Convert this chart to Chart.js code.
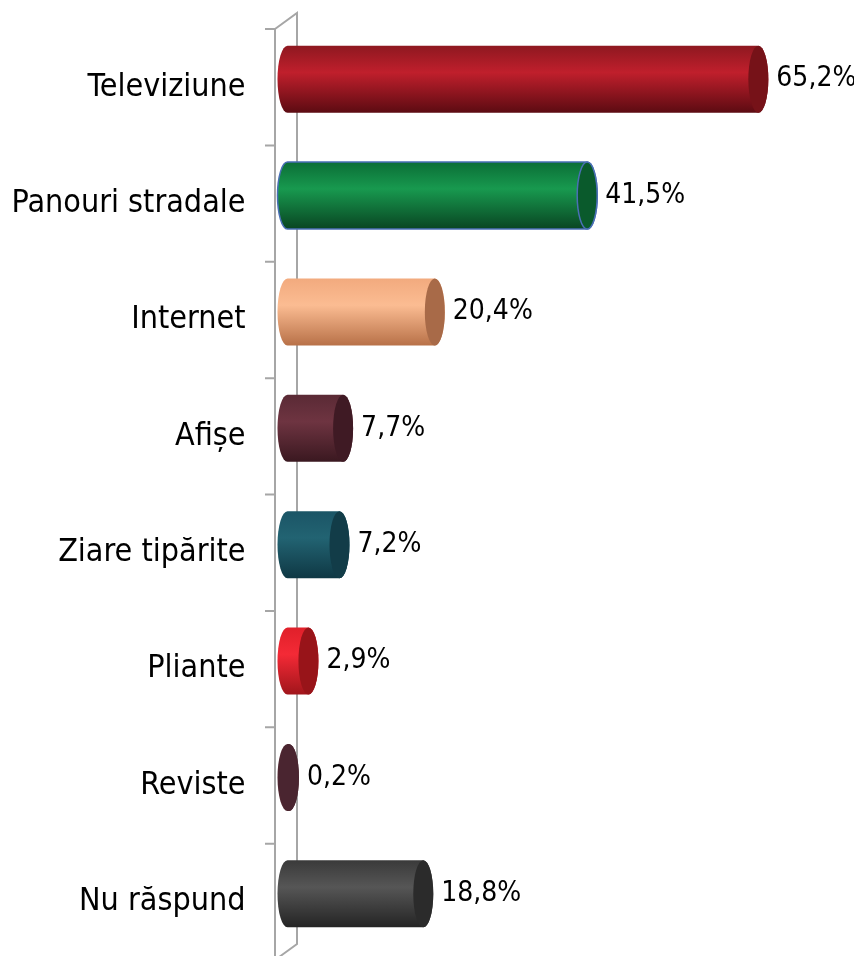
<!DOCTYPE html>
<html>
<head>
<meta charset="utf-8">
<script src="https://cdn.jsdelivr.net/npm/chart.js@4/dist/chart.umd.min.js"></script>
<style>
html,body{margin:0;padding:0;background:#fff;overflow:hidden;}
canvas{display:block;}
</style>
</head>
<body>
<canvas id="c" width="854" height="972"></canvas>
<script>
const categories = ["Televiziune","Panouri stradale","Internet","Afișe","Ziare tipărite","Pliante","Reviste","Nu răspund"];
const values = [65.2, 41.5, 20.4, 7.7, 7.2, 2.9, 0.2, 18.8];
const valueLabels = ["65,2%","41,5%","20,4%","7,7%","7,2%","2,9%","0,2%","18,8%"];
const barTop = ["#8e1820","#0b6e36","#f2aa7e","#5a2a35","#1b5566","#e0202a","#4e2630","#3a3a3a"];
const barMid = ["#c01f2c","#18994f","#fbbc92","#6e3441","#226372","#f42a36","#4e2630","#565656"];
const barBottom = ["#5c0b12","#094522","#b87148","#3a1820","#0f3844","#a0151b","#4e2630","#242424"];
const barCap = ["#761218","#0a5a2c","#a86a48","#3f1a24","#123c48","#981419","#4a2530","#2b2b2b"];
const barStroke = [null,"#4a6fb5",null,null,null,null,null,null];

const FONT = "'DejaVu Sans Condensed','DejaVu Sans',sans-serif";
const DEPTH_SHIFT = 8;

const cylinderPlugin = {
  id: 'cyl',
  beforeDatasetsDraw(chart) {
    const ctx = chart.ctx;
    const xs = chart.scales.x, ys = chart.scales.y;
    const ca = chart.chartArea;
    const z = xs.getPixelForValue(0);
    const band = (ca.bottom - ca.top) / categories.length;
    const lx = z - 12.5, rx = z + 9.5;
    ctx.save();
    ctx.strokeStyle = '#a6a6a6';
    ctx.lineWidth = 2;
    ctx.beginPath();
    ctx.moveTo(lx, ca.top); ctx.lineTo(lx, ca.bottom + 20);
    ctx.moveTo(lx, ca.top); ctx.lineTo(rx, ca.top - 16);
    ctx.lineTo(rx, ca.bottom - 16);
    ctx.lineTo(lx, ca.bottom);
    for (let i = 0; i <= categories.length; i++) {
      const ty = ys.getPixelForValue(i) - band / 2;
      ctx.moveTo(lx - 10, ty); ctx.lineTo(lx, ty);
    }
    ctx.stroke();
    ctx.restore();
  },
  afterDatasetsDraw(chart) {
    const ctx = chart.ctx;
    const meta = chart.getDatasetMeta(0);
    meta.data.forEach((el, i) => {
      const p = el.getProps(['x','y','base','height'], true);
      const h = p.height;
      const cy = p.y - DEPTH_SHIFT;
      const top = cy - h / 2, bot = cy + h / 2;
      const rxE = 10;
      const x = p.x, b = p.base;
      ctx.save();
      const g = ctx.createLinearGradient(0, top, 0, bot);
      g.addColorStop(0, barTop[i]);
      g.addColorStop(0.4, barMid[i]);
      g.addColorStop(1, barBottom[i]);
      ctx.beginPath();
      ctx.moveTo(b, top);
      ctx.lineTo(x, top);
      ctx.ellipse(x, cy, rxE, h / 2, 0, -Math.PI / 2, Math.PI / 2);
      ctx.lineTo(b, bot);
      ctx.ellipse(b, cy, rxE, h / 2, 0, Math.PI / 2, Math.PI * 1.5);
      ctx.closePath();
      ctx.fillStyle = g;
      ctx.fill();
      if (barStroke[i]) { ctx.strokeStyle = barStroke[i]; ctx.lineWidth = 1.5; ctx.stroke(); }
      ctx.beginPath();
      ctx.ellipse(x, cy, rxE, h / 2, 0, 0, Math.PI * 2);
      ctx.fillStyle = barCap[i];
      ctx.fill();
      if (barStroke[i]) { ctx.strokeStyle = barStroke[i]; ctx.lineWidth = 1.5; ctx.stroke(); }
      ctx.fillStyle = '#000';
      ctx.font = '28px ' + FONT;
      ctx.textAlign = 'left';
      ctx.textBaseline = 'middle';
      ctx.fillText(valueLabels[i], x + rxE + 8, cy);
      ctx.restore();
    });
  }
};

new Chart(document.getElementById('c'), {
  type: 'bar',
  data: {
    labels: categories,
    datasets: [{
      data: values,
      backgroundColor: 'rgba(0,0,0,0)',
      borderWidth: 0,
      categoryPercentage: 0.576,
      barPercentage: 1
    }]
  },
  options: {
    indexAxis: 'y',
    responsive: false,
    animation: false,
    layout: { padding: { top: 29, bottom: 12, left: 0, right: 61 } },
    plugins: { legend: { display: false }, tooltip: { enabled: false } },
    scales: {
      x: { display: false, min: 0, max: 70 },
      y: {
        grid: { display: false },
        border: { display: false },
        ticks: { color: '#000', padding: 34, font: { family: FONT, size: 32 } },
        afterFit(s) { s.width = 287.5; s.paddingTop = 0; s.paddingBottom = 0; }
      }
    }
  },
  plugins: [cylinderPlugin]
});
</script>
</body>
</html>
